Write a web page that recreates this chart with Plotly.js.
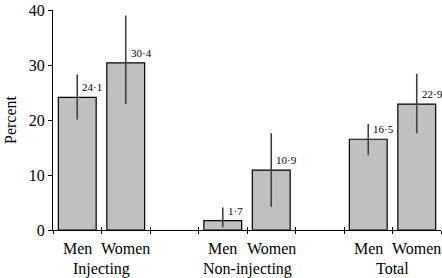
<!DOCTYPE html>
<html><head><meta charset="utf-8">
<script src="https://cdn.plot.ly/plotly-3.0.1.min.js"></script>
<style>html,body{margin:0;padding:0;background:#fff;}#chart{width:442px;height:278px;}</style>
</head><body><div id="chart"></div>
<script>
const groups = ['Injecting', 'Non-injecting', 'Total'];
const sexes = ['Men', 'Women'];
const values = [24.1, 30.4, 1.7, 10.9, 16.5, 22.9];
const ciUpper = [28.3, 39.0, 4.1, 17.6, 19.3, 28.4];
const ciLower = [20.1, 22.9, 0.5, 4.2, 13.6, 17.6];
const yTicks = [0, 10, 20, 30, 40];

const SLOTS_PER_GROUP = sexes.length + 1;
const xs = [], barLabels = [];
groups.forEach((g, gi) => sexes.forEach((s, si) => {
  xs.push(gi * SLOTS_PER_GROUP + si + 0.5);
}));
values.forEach(v => barLabels.push(v.toFixed(1).replace('.', '\u00B7')));

const serif = 'Liberation Serif';
const bars = {
  type: 'bar', x: xs, y: values, width: 0.78,
  marker: {color: '#c0c0c0', line: {color: '#000', width: 1.2}},
  error_y: {type: 'data', symmetric: false,
    array: values.map((v, i) => ciUpper[i] - v),
    arrayminus: values.map((v, i) => v - ciLower[i]),
    color: '#404040', thickness: 1.6, width: 0},
  hoverinfo: 'none', showlegend: false
};
const dummy = {type: 'scatter', x: [0], y: [0], xaxis: 'x2', mode: 'none', showlegend: false, hoverinfo: 'none'};

const nSlots = groups.length * SLOTS_PER_GROUP - 1;
const annotations = [];
xs.forEach((x, i) => {
  annotations.push({x: x, y: values[i], xref: 'x', yref: 'y', text: barLabels[i],
    showarrow: false, xanchor: 'left', yanchor: 'middle', xshift: 3, yshift: 10,
    font: {family: serif, size: 11, color: '#000'}});
  annotations.push({x: x, y: 0, xref: 'x', yref: 'paper', text: sexes[i % sexes.length],
    showarrow: false, xanchor: 'center', yanchor: 'top', yshift: -8,
    font: {family: serif, size: 16, color: '#000'}});
});
groups.forEach((g, gi) => {
  annotations.push({x: gi * SLOTS_PER_GROUP + sexes.length / 2, y: 0, xref: 'x', yref: 'paper', text: g,
    showarrow: false, xanchor: 'center', yanchor: 'top', yshift: -28,
    font: {family: serif, size: 16, color: '#000'}});
});

const layout = {
  width: 442, height: 278,
  margin: {l: 53, r: 1, t: 10, b: 48},
  paper_bgcolor: '#fff', plot_bgcolor: '#fff',
  font: {family: serif, size: 16, color: '#000'},
  xaxis: {range: [0, nSlots], tickmode: 'linear', tick0: 0, dtick: 1,
    showticklabels: false, ticks: 'outside', ticklen: 3, tickcolor: '#000', tickwidth: 1,
    showline: true, linecolor: '#000', linewidth: 1, showgrid: false, zeroline: false, fixedrange: true},
  xaxis2: {overlaying: 'x', range: [0, nSlots], tickmode: 'linear', tick0: 0, dtick: 1,
    showticklabels: false, ticks: 'inside', ticklen: 3, tickcolor: '#000', tickwidth: 1,
    showline: false, showgrid: false, zeroline: false, side: 'bottom', anchor: 'y'},
  yaxis: {range: [0, 40], tickvals: yTicks, ticktext: yTicks.map(String),
    ticks: 'outside', ticklen: 4, tickcolor: '#000', showline: true, linecolor: '#000', linewidth: 1,
    showgrid: false, zeroline: false, tickfont: {family: serif, size: 16},
    title: {text: 'Percent', font: {family: serif, size: 16}, standoff: 8}},
  annotations: annotations
};
Plotly.newPlot('chart', [bars, dummy], layout, {staticPlot: true, displayModeBar: false});
</script></body></html>
